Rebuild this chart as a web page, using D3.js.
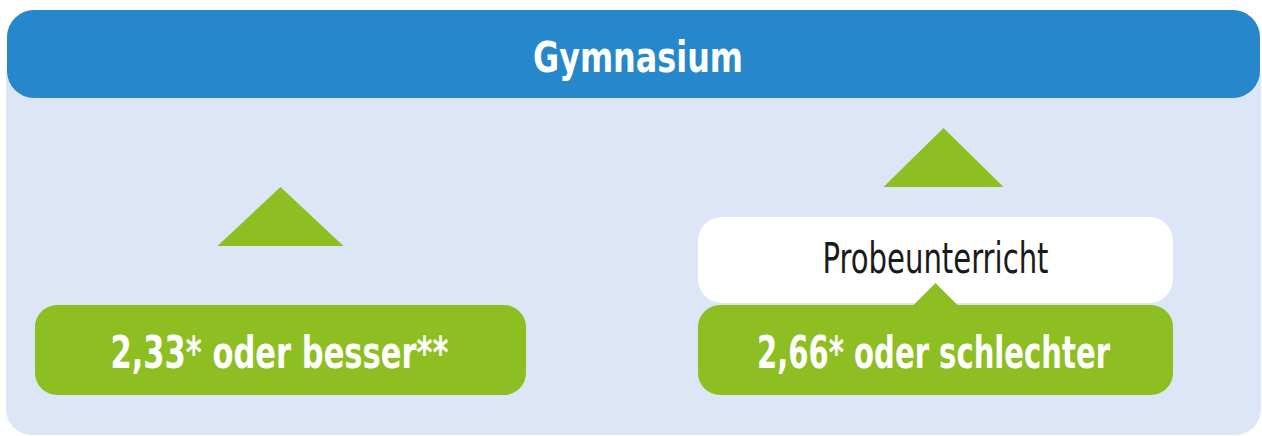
<!DOCTYPE html>
<html>
<head>
<meta charset="utf-8">
<script src="https://cdn.jsdelivr.net/npm/d3@7"></script>
<style>
  body { margin:0; background:#ffffff; }
  svg { display:block; }
</style>
</head>
<body>
<div id="chart"></div>
<script>
// Inhalte des Schemas
var schulart = "Gymnasium";
var spalten = ["links", "rechts"];
var noten = ["2,33*", "2,66*"];
var zusatz = ["oder besser**", "oder schlechter"];
var zwischenschritt = [null, "Probeunterricht"];

var width = 1262, height = 436;
var blau = "#2688ca", hell = "#dce6f6", gruen = "#8dbf22";
var condensed = "'Liberation Sans Narrow','DejaVu Sans Condensed','Roboto Condensed','Liberation Sans',sans-serif";

var svg = d3.select("#chart")
  .append("svg")
  .attr("width", width)
  .attr("height", height);

// horizontale Aufteilung der beiden Spalten
var x = d3.scaleBand()
  .domain(spalten)
  .range([35, 1173])
  .paddingInner(0.2836)
  .paddingOuter(0);

// linker Kasten etwas breiter als das Band
var extraBreite = [16, 0];

// vertikale Stufen: 0 = Notenkasten, 1 = Zwischenschritt
var yStufe = d3.scaleLinear().domain([0, 1]).range([305, 217]);
var boxH = [90, 86];

// Hintergrund
svg.append("rect")
  .attr("x", 6).attr("y", 50)
  .attr("width", width - 7).attr("height", height - 51)
  .attr("rx", 26).attr("ry", 26)
  .style("fill", hell);

svg.append("rect")
  .attr("x", 7).attr("y", 10)
  .attr("width", 1253).attr("height", 88)
  .attr("rx", 27).attr("ry", 27)
  .style("fill", blau);

svg.append("text")
  .attr("x", 638).attr("y", 72)
  .attr("text-anchor", "middle")
  .attr("textLength", 210)
  .attr("lengthAdjust", "spacingAndGlyphs")
  .style("font-family", condensed)
  .style("font-weight", "bold")
  .style("font-size", "43px")
  .style("fill", "#ffffff")
  .text(schulart);

var daten = spalten.map(function(s, i){
  return {spalte:s, note:noten[i], zusatz:zusatz[i], schritt:zwischenschritt[i]};
});

function mitte(d, i){ return x(d.spalte) + (x.bandwidth() + extraBreite[i]) / 2; }

var spalte = svg.selectAll("g.spalte")
  .data(daten)
  .enter()
  .append("g")
  .attr("class", "spalte");

// Pfeil nach oben (Dreieck)
var pfeilBasis = [246, 187];
spalte.append("path")
  .attr("d", function(d, i){
    var cx = mitte(d, i) + (i == 1 ? 8 : 0);
    var b = pfeilBasis[i];
    var hw = i == 1 ? 60 : 63;
    return "M" + (cx - hw) + "," + b + "L" + cx + "," + (b - 59) + "L" + (cx + hw) + "," + b + "Z";
  })
  .style("fill", gruen);

// Zwischenschritt (weißer Kasten)
var mitSchritt = spalte.filter(function(d){ return d.schritt; });
mitSchritt.append("rect")
  .attr("x", function(d){ return x(d.spalte); })
  .attr("y", yStufe(1))
  .attr("width", x.bandwidth())
  .attr("height", boxH[1])
  .attr("rx", 24).attr("ry", 24)
  .style("fill", "#ffffff");

mitSchritt.append("text")
  .attr("x", function(d){ return mitte(d, 1); })
  .attr("y", yStufe(1) + 56)
  .attr("text-anchor", "middle")
  .attr("textLength", 226)
  .attr("lengthAdjust", "spacingAndGlyphs")
  .style("font-family", condensed)
  .style("font-size", "43px")
  .style("fill", "#1a1a1a")
  .text(function(d){ return d.schritt; });

// kleiner Verbindungspfeil
mitSchritt.append("path")
  .attr("d", function(d){
    var cx = mitte(d, 1);
    var b = yStufe(0) + 1;
    return "M" + (cx - 23) + "," + b + "L" + cx + "," + (b - 23) + "L" + (cx + 23) + "," + b + "Z";
  })
  .style("fill", gruen);

// Notenkasten
spalte.append("rect")
  .attr("x", function(d){ return x(d.spalte); })
  .attr("y", yStufe(0))
  .attr("width", function(d, i){ return x.bandwidth() + extraBreite[i]; })
  .attr("height", boxH[0])
  .attr("rx", 22).attr("ry", 22)
  .style("fill", gruen);

spalte.append("text")
  .attr("x", function(d, i){ return mitte(d, i) + (i == 0 ? -1 : -2); })
  .attr("y", yStufe(0) + 63)
  .attr("text-anchor", "middle")
  .attr("textLength", function(d, i){ return i == 0 ? 338 : 353; })
  .attr("lengthAdjust", "spacingAndGlyphs")
  .style("font-family", condensed)
  .style("font-weight", "bold")
  .style("font-size", "44px")
  .style("fill", "#ffffff")
  .text(function(d){ return d.note + " " + d.zusatz; });
</script>
</body>
</html>
